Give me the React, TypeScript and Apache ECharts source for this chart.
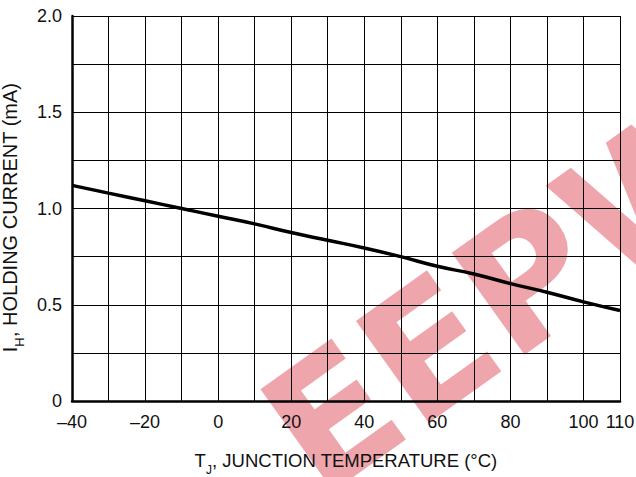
import React, { useEffect, useRef } from "react";
import * as echarts from "echarts";

const temps = [-40, -30, -20, -10, 0, 10, 20, 30, 40, 50, 60, 70, 80, 90, 100, 110];
const holdingCurrent = [1.12, 1.08, 1.04, 1.0, 0.96, 0.92, 0.875, 0.835, 0.795, 0.75, 0.70, 0.66, 0.61, 0.565, 0.515, 0.47];

const xLabelValues = [-40, -20, 0, 20, 40, 60, 80, 100, 110];
const xTickLabels = ["–40", "–20", "0", "20", "40", "60", "80", "100", "110"];
const yLabelValues = [0, 0.5, 1.0, 1.5, 2.0];
const yTickLabels = ["0", "0.5", "1.0", "1.5", "2.0"];

const FONT = "'Liberation Sans', Arial, Helvetica, sans-serif";

export default function App() {
  const ref = useRef<HTMLDivElement>(null);
  useEffect(() => {
    if (!ref.current) return;
    const chart = echarts.init(ref.current, undefined, { renderer: "svg" });
    chart.setOption({
      animation: false,
      backgroundColor: "#ffffff",
      grid: { left: 72, top: 16, right: 16, bottom: 76, containLabel: false, outerBoundsMode: "none" },
      xAxis: {
        type: "value",
        min: -40,
        max: 110,
        interval: 10,
        axisLine: { show: true, onZero: false, lineStyle: { color: "#000", width: 2.5 } },
        axisTick: { show: false },
        splitLine: { show: true, lineStyle: { color: "#000", width: 1 } },
        axisLabel: {
          show: true,
          margin: 12,
          color: "#111",
          fontSize: 18,
          fontFamily: FONT,
          formatter: (v: number) => {
            const i = xLabelValues.findIndex((x) => Math.abs(x - v) < 1e-6);
            return i >= 0 ? xTickLabels[i] : "";
          },
        },
        name: "{t|T}{s|J}{t|, JUNCTION TEMPERATURE (°C)}",
        nameLocation: "middle",
        nameGap: 50,
        nameTextStyle: {
          rich: {
            t: { fontSize: 18.5, fontFamily: FONT, color: "#111" },
            s: { fontSize: 12, fontFamily: FONT, color: "#111", verticalAlign: "bottom", padding: [0, 0, -6, 0] },
          },
        },
      },
      yAxis: {
        type: "value",
        min: 0,
        max: 2,
        interval: 0.25,
        axisLine: { show: true, onZero: false, lineStyle: { color: "#000", width: 2.5 } },
        axisTick: { show: false },
        splitLine: { show: true, lineStyle: { color: "#000", width: 1 } },
        axisLabel: {
          show: true,
          margin: 10,
          color: "#111",
          fontSize: 18,
          fontFamily: FONT,
          formatter: (v: number) => {
            const i = yLabelValues.findIndex((y) => Math.abs(y - v) < 1e-6);
            return i >= 0 ? yTickLabels[i] : "";
          },
        },
        name: "{t|I}{s|H}{t|, HOLDING CURRENT (mA)}",
        nameLocation: "middle",
        nameGap: 44,
        nameTextStyle: {
          padding: [0, 18, 0, 0],
          rich: {
            t: { fontSize: 20, fontFamily: FONT, color: "#111" },
            s: { fontSize: 13, fontFamily: FONT, color: "#111", verticalAlign: "bottom", padding: [0, 0, -6, 0] },
          },
        },
      },
      series: [
        {
          type: "line",
          data: temps.map((t, i) => [t, holdingCurrent[i]]),
          symbol: "none",
          smooth: true,
          lineStyle: { color: "#000", width: 3.5 },
          z: 3,
        },
      ],
      graphic: [
        {
          type: "group",
          x: 510,
          y: 292,
          rotation: 0.62,
          z: 100,
          silent: true,
          children: [
            {
              type: "rect",
              shape: { x: -270, y: -70, width: 540, height: 140 },
              style: { fill: "rgba(255,255,255,0.4)" },
            },
            {
              type: "text",
              x: 0,
              y: 0,
              style: {
                text: "EEPW",
                fontSize: 172,
                fontWeight: "bold",
                fontFamily: "'DejaVu Sans', sans-serif",
                fill: "rgba(215,40,55,0.42)",
                align: "center",
                verticalAlign: "middle",
              },
            },
          ],
        },
      ],
    });
    return () => chart.dispose();
  }, []);
  return <div ref={ref} style={{ width: 636, height: 477, position: "absolute", left: 0, top: 0 }} />;
}
